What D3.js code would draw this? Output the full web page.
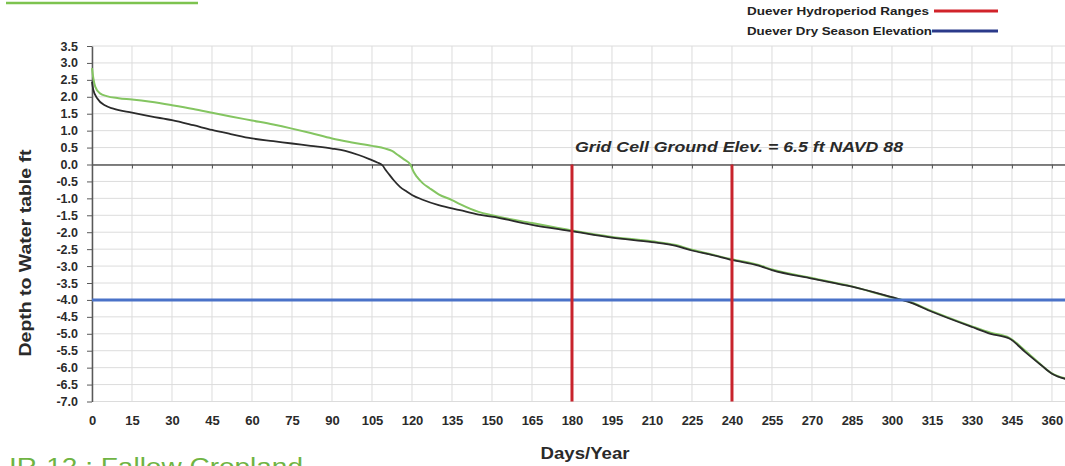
<!DOCTYPE html>
<html>
<head>
<meta charset="utf-8">
<script src="https://cdn.jsdelivr.net/npm/d3@7"></script>
<style>
  html, body { margin: 0; padding: 0; background: #fff; }
  svg { display: block; font-family: "Liberation Sans", Arial, sans-serif; }
</style>
</head>
<body>
<svg id="chart" width="1065" height="466"></svg>
<script>
// ---------- data ----------
const xTicks = [0,15,30,45,60,75,90,105,120,135,150,165,180,195,210,225,240,255,270,285,300,315,330,345,360];
const yTicks = [3.5,3.0,2.5,2.0,1.5,1.0,0.5,0.0,-0.5,-1.0,-1.5,-2.0,-2.5,-3.0,-3.5,-4.0,-4.5,-5.0,-5.5,-6.0,-6.5,-7.0];

// dark curve [day, depth ft]
const darkCurve = [
  [0,2.45],[0.5,2.2],[2,1.95],[5,1.74],[8,1.65],[15,1.53],[22,1.42],[30,1.31],[38,1.16],[45,1.02],
  [52,0.9],[60,0.77],[68,0.69],[75,0.62],[82,0.55],[90,0.47],[95,0.4],[100,0.28],[104,0.16],[107,0.06],
  [109,-0.03],[110,-0.15],[111.5,-0.3],[113,-0.45],[115.5,-0.66],[118,-0.8],[120,-0.9],[124,-1.04],
  [130,-1.2],[138,-1.35],[145,-1.48],[150,-1.54],[165,-1.78],[180,-1.97],[195,-2.16],[210,-2.29],
  [219,-2.4],[225,-2.54],[232,-2.66],[240,-2.82],[250,-2.99],[255,-3.12],[270,-3.37],[285,-3.61],
  [300,-3.92],[306,-4.05],[315,-4.35],[330,-4.8],[337,-5.0],[344,-5.14],[350,-5.54],[356,-5.93],
  [360,-6.18],[365,-6.33]
];

// green curve [day, depth ft]
const greenCurve = [
  [0,2.85],[0.5,2.55],[1.2,2.3],[3,2.1],[5.5,2.02],[10,1.96],[15,1.92],[22,1.85],[30,1.75],[38,1.64],
  [45,1.53],[52,1.42],[60,1.3],[68,1.18],[75,1.06],[82,0.93],[90,0.77],[97,0.66],[105,0.55],[110,0.47],
  [112.5,0.4],[114.7,0.28],[117,0.15],[119.4,0],[120.5,-0.2],[121.8,-0.36],[124,-0.55],[126.6,-0.7],
  [130,-0.88],[135,-1.05],[138,-1.17],[145,-1.4],[150,-1.5],[165,-1.73],[180,-1.95],[195,-2.14],
  [210,-2.27],[219,-2.38],[225,-2.52],[232,-2.65],[240,-2.8],[250,-2.97],[255,-3.1],[270,-3.35],
  [285,-3.6],[300,-3.93],[306,-4.04],[315,-4.33],[330,-4.78],[337,-4.97],[344,-5.12],[350,-5.5],
  [356,-5.92],[360,-6.17],[365,-6.32]
];

const hydroperiodDays = [180, 240];
const drySeasonElevation = [-4.0];
const legendLabels = ["Duever Hydroperiod Ranges", "Duever Dry Season Elevation"];
const annotationText = "Grid Cell Ground Elev. = 6.5 ft NAVD 88";
const yTitle = "Depth to Water table ft";
const xTitle = "Days/Year";
const bottomTitle = "IR-12 : Fallow Cropland";

// ---------- layout ----------
const svg = d3.select("#chart");
const plotLeft = 92, plotRight = 1065.3, plotTop = 46, plotBottom = 401.5;
const x = d3.scaleLinear().domain([0, 365]).range([plotLeft, plotRight]);
const y = d3.scaleLinear().domain([-7, 3.5]).range([plotBottom, plotTop]);

svg.append("rect").attr("width", 1065).attr("height", 466).attr("fill", "#fff");

// top-left green underline fragment
svg.append("line").attr("x1", 6).attr("x2", 198).attr("y1", 3).attr("y2", 3)
  .attr("stroke", "#7dc34f").attr("stroke-width", 2.5);

// grid
const grid = svg.append("g");
grid.selectAll("line.v").data(xTicks).join("line")
  .attr("x1", d => x(d)).attr("x2", d => x(d)).attr("y1", plotTop).attr("y2", plotBottom)
  .attr("stroke", "#dcdcdc").attr("stroke-width", 1);
grid.selectAll("line.h").data(yTicks).join("line")
  .attr("x1", plotLeft).attr("x2", 1065).attr("y1", d => y(d)).attr("y2", d => y(d))
  .attr("stroke", "#dcdcdc").attr("stroke-width", 1);

// y axis
const yAxis = svg.append("g").attr("transform", `translate(${plotLeft},0)`)
  .call(d3.axisLeft(y).tickValues(yTicks).tickSize(5).tickSizeOuter(0).tickPadding(9)
    .tickFormat(d => d.toFixed(1)));
yAxis.select(".domain").attr("stroke", "#595959").attr("stroke-width", 1.5);
yAxis.selectAll(".tick line").attr("stroke", "#595959");
yAxis.selectAll("text").attr("font-size", 12.5).attr("font-weight", "bold").attr("fill", "#2a2a2a");

// zero line axis with ticks
const zAxis = svg.append("g").attr("transform", `translate(0,${y(0)})`)
  .call(d3.axisBottom(x).tickValues(xTicks).tickSize(4).tickSizeOuter(0).tickFormat(""));
zAxis.select(".domain").attr("stroke", "#595959").attr("stroke-width", 1.5);
zAxis.selectAll(".tick line").attr("stroke", "#595959");

// bottom labels
const xAxis = svg.append("g").attr("transform", `translate(0,${plotBottom})`)
  .call(d3.axisBottom(x).tickValues(xTicks).tickSize(0).tickPadding(14).tickFormat(d => d));
xAxis.select(".domain").remove();
xAxis.selectAll("text").attr("font-size", 13).attr("font-weight", "bold").attr("fill", "#2a2a2a");

// curves
const line = d3.line().x(d => x(d[0])).y(d => y(d[1])).curve(d3.curveMonotoneX);
svg.append("path").datum(greenCurve).attr("d", line).attr("fill", "none")
  .attr("stroke", "#84c561").attr("stroke-width", 2);
svg.append("path").datum(darkCurve).attr("d", line).attr("fill", "none")
  .attr("stroke", "#2b2b2b").attr("stroke-width", 1.8);

// dry season elevation
svg.selectAll("line.dry").data(drySeasonElevation).join("line")
  .attr("x1", plotLeft).attr("x2", 1065).attr("y1", d => y(d)).attr("y2", d => y(d))
  .attr("stroke", "#4a72c8").attr("stroke-width", 3);

// hydroperiod ranges
svg.selectAll("line.hydro").data(hydroperiodDays).join("line")
  .attr("x1", d => x(d)).attr("x2", d => x(d)).attr("y1", y(0)).attr("y2", plotBottom)
  .attr("stroke", "#c8232c").attr("stroke-width", 3);

// annotation
svg.append("text").attr("x", 575).attr("y", 152)
  .attr("font-size", 14.5).attr("font-weight", "bold").attr("font-style", "italic")
  .attr("fill", "#2a2a2a").attr("textLength", 328).attr("lengthAdjust", "spacingAndGlyphs")
  .text(annotationText);

// legend
const legendColors = ["#d1232a", "#2b3a8a"];
const legendY = [15, 35];
const legendWidths = [182, 185];
legendLabels.forEach((t, i) => {
  svg.append("text").attr("x", 747).attr("y", legendY[i])
    .attr("font-size", 11).attr("font-weight", "bold").attr("fill", "#222")
    .attr("textLength", legendWidths[i]).attr("lengthAdjust", "spacingAndGlyphs")
    .text(t);
  svg.append("line").attr("x1", i === 0 ? 934 : 932).attr("x2", 998)
    .attr("y1", legendY[i] - 4).attr("y2", legendY[i] - 4)
    .attr("stroke", legendColors[i]).attr("stroke-width", 3);
});

// axis titles
svg.append("text").attr("transform", "translate(31,253) rotate(-90)")
  .attr("text-anchor", "middle").attr("font-size", 16).attr("font-weight", "bold")
  .attr("fill", "#2a2a2a").attr("textLength", 207).attr("lengthAdjust", "spacingAndGlyphs")
  .text(yTitle);
svg.append("text").attr("x", 585).attr("y", 459).attr("text-anchor", "middle")
  .attr("font-size", 16).attr("font-weight", "bold").attr("fill", "#2a2a2a")
  .attr("textLength", 89).attr("lengthAdjust", "spacingAndGlyphs").text(xTitle);

// bottom-left green title (cut off at the bottom edge, as in the reference)
svg.append("text").attr("x", 9).attr("y", 475)
  .attr("font-size", 23).attr("fill", "#6fb443")
  .attr("textLength", 294).attr("lengthAdjust", "spacingAndGlyphs")
  .text(bottomTitle);
</script>
</body>
</html>
